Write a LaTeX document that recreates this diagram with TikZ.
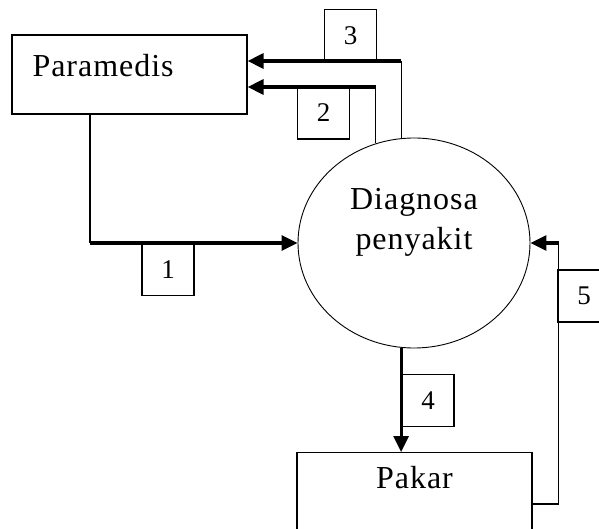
\documentclass[tikz,border=0pt]{standalone}
\usepackage{fontspec}
\setmainfont[LetterSpace=3]{Liberation Serif}
\usetikzlibrary{arrows.meta,shapes.geometric,positioning,calc}

\begin{document}
\begin{tikzpicture}[
    x=1pt,y=-1pt,
    every node/.style={font=\fontsize{32}{40}\selectfont},
    entity/.style={draw,line width=1.2pt,minimum width=235pt,inner sep=0pt},
    process/.style={draw,ellipse,line width=0.9pt,minimum width=232pt,minimum height=210pt,inner sep=0pt},
    numbox/.style={draw,line width=1.2pt,minimum width=52pt,minimum height=52pt,inner sep=0pt,font=\fontsize{27}{30}\selectfont},
    link/.style={line width=1.2pt},
    flow/.style={line width=3.2pt,-{Triangle[length=16pt,width=15pt]}},
]
\useasboundingbox (0,0) rectangle (599,529);
\clip (0,0) rectangle (599,529);

% Entities and process
\node[entity,minimum height=79pt,
      label={[anchor=west,inner sep=0pt,xshift=21pt,yshift=8.5pt]west:Paramedis}] (para) at (129.5,74.5) {};
\node[process,
      label={[align=center,inner sep=0pt,yshift=20.5pt]center:Diagnosa\\penyakit}] (diag) at (414,243) {};
\node[entity,minimum height=100pt,anchor=north,
      label={[anchor=north,inner sep=0pt,yshift=-14pt]north:Pakar}] (pakar) at (414.5,452) {};

% Flow 1: Paramedis -> Diagnosa
\coordinate (p1) at ([xshift=-39.5pt]para.south);
\draw[link] (p1) -- (p1 |- diag.west) coordinate (k1);
\draw[flow] (k1) -- (diag.west);

% Flows 2 and 3: Diagnosa -> Paramedis
\coordinate (in2) at ([yshift=-12.5pt]para.east);
\coordinate (in3) at ([yshift=13.5pt]para.east);
\draw[link] (diag.111) -- (diag.111 |- in2) coordinate (k2);
\draw[flow] (k2) -- (in2);
\draw[link] (diag.97.5) -- (diag.97.5 |- in3) coordinate (k3);
\draw[flow] (k3) -- (in3);

% Flow 4: Diagnosa -> Pakar
\draw[flow] (diag.263.5) -- (diag.263.5 |- pakar.north);

% Flow 5: Pakar -> Diagnosa
\coordinate (o5) at ([yshift=-52pt]pakar.north east);
\draw[link] (o5) -- ++(26,0) coordinate (k5) -- (k5 |- diag.east) coordinate (k5b);
\draw[flow] (k5b) -- (diag.east);

% Flow numbers
\node[numbox] (n1) at (168,269.5) {1};
\node[numbox] (n2) at (323.5,113) {2};
\node[numbox] (n3) at (350.5,35.5) {3};
\node[numbox] (n4) at (428,400.5) {4};
\node[numbox] (n5) at (584,296) {5};
\end{tikzpicture}
\end{document}
